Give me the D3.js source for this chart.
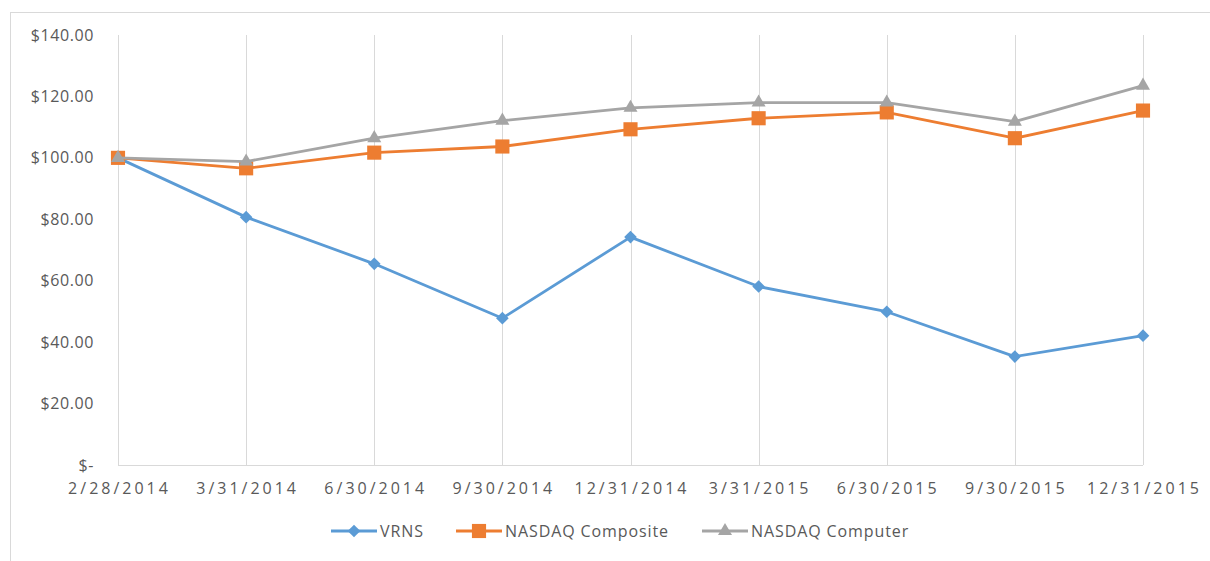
<!DOCTYPE html>
<html>
<head>
<meta charset="utf-8">
<script src="https://cdn.jsdelivr.net/npm/d3@7"></script>
<style>
    body { margin: 0; background: #fff; }
    text { font-family: "Open Sans", "Liberation Sans", sans-serif; fill: #595959; }
</style>
</head>
<body>
<svg id="chart" width="1210" height="561"></svg>
<script>
const dates = ["2/28/2014", "3/31/2014", "6/30/2014", "9/30/2014", "12/31/2014",
               "3/31/2015", "6/30/2015", "9/30/2015", "12/31/2015"]
const vrns = [100, 80.7, 65.5, 47.8, 74.2, 58.1, 49.9, 35.3, 42.1]
const composite = [100, 96.6, 101.7, 103.7, 109.3, 112.9, 114.8, 106.4, 115.4]
const computer = [100, 98.8, 106.4, 112.1, 116.3, 118.0, 118.0, 111.8, 123.5]
const yTicks = [0, 20, 40, 60, 80, 100, 120, 140]

const series = [
    {name: "VRNS", values: vrns, color: "#5B9BD5", shape: "diamond"},
    {name: "NASDAQ Composite", values: composite, color: "#ED7D31", shape: "square"},
    {name: "NASDAQ Computer", values: computer, color: "#A5A5A5", shape: "triangle"}
]

let svg = d3.select("#chart"),
    width = +svg.attr("width"),
    height = +svg.attr("height");

// chart frame (only top/left edges show in the picture)
svg.append("line").attr("x1", 10.5).attr("x2", 10.5).attr("y1", 12).attr("y2", height)
    .attr("stroke", "#D9D9D9")
svg.append("line").attr("x1", 10).attr("x2", width).attr("y1", 12.5).attr("y2", 12.5)
    .attr("stroke", "#D9D9D9")

let x = d3.scalePoint().domain(dates).range([118, 1143])
let y = d3.scaleLinear().domain([0, 140]).range([465, 35])

// vertical gridlines
svg.append("g")
    .selectAll("line")
    .data(dates).enter()
    .append("line")
    .attr("x1", d => Math.round(x(d)) + 0.5)
    .attr("x2", d => Math.round(x(d)) + 0.5)
    .attr("y1", y(140))
    .attr("y2", y(0))
    .attr("stroke", "#D9D9D9")
    .attr("stroke-width", 1)

// x axis line
svg.append("line")
    .attr("x1", x(dates[0])).attr("x2", x(dates[dates.length - 1]))
    .attr("y1", y(0) + 0.5).attr("y2", y(0) + 0.5)
    .attr("stroke", "#D9D9D9")

// y labels
svg.append("g")
    .selectAll("text")
    .data(yTicks).enter()
    .append("text")
    .attr("x", 94)
    .attr("y", d => y(d))
    .attr("dy", "0.35em")
    .attr("text-anchor", "end")
    .attr("font-size", 16)
    .attr("letter-spacing", 0.6)
    .text(d => d === 0 ? "$-" : "$" + d3.format(".2f")(d))

// x labels
svg.append("g")
    .selectAll("text")
    .data(dates).enter()
    .append("text")
    .attr("x", d => x(d) + 1.5)
    .attr("y", 488)
    .attr("dy", "0.35em")
    .attr("text-anchor", "middle")
    .attr("font-size", 16)
    .attr("letter-spacing", 3)
    .text(d => d)

const symbolFor = (shape) => {
    if (shape === "square") return d3.symbol().type(d3.symbolSquare).size(200)()
    if (shape === "triangle") return d3.symbol().type(d3.symbolTriangle).size(85)()
    return d3.symbol().type(d3.symbolSquare).size(80)()
}

let line = d3.line()
    .x((d, i) => x(dates[i]))
    .y(d => y(d))

series.forEach(s => {
    let g = svg.append("g")
    g.append("path")
        .attr("d", line(s.values))
        .attr("fill", "none")
        .attr("stroke", s.color)
        .attr("stroke-width", 2.8)
        .attr("stroke-linejoin", "round")
    g.selectAll("path.marker")
        .data(s.values).enter()
        .append("path")
        .attr("class", "marker")
        .attr("d", symbolFor(s.shape))
        .attr("transform", (d, i) => "translate(" + x(dates[i]) + "," + y(d) + ")" +
            (s.shape === "diamond" ? " rotate(45)" : ""))
        .attr("fill", s.color)
})

// legend
const legendX = [331, 456, 702]
let legend = svg.append("g")
series.forEach((s, i) => {
    let lx = legendX[i]
    legend.append("line")
        .attr("x1", lx).attr("x2", lx + 46)
        .attr("y1", 531).attr("y2", 531)
        .attr("stroke", s.color)
        .attr("stroke-width", 2.8)
    legend.append("path")
        .attr("d", symbolFor(s.shape))
        .attr("transform", "translate(" + (lx + 23) + ",531)" +
            (s.shape === "diamond" ? " rotate(45)" : ""))
        .attr("fill", s.color)
    legend.append("text")
        .attr("x", lx + 49)
        .attr("y", 531)
        .attr("dy", "0.35em")
        .attr("font-size", 16)
        .attr("letter-spacing", 0.9)
        .text(s.name)
})
</script>
</body>
</html>
